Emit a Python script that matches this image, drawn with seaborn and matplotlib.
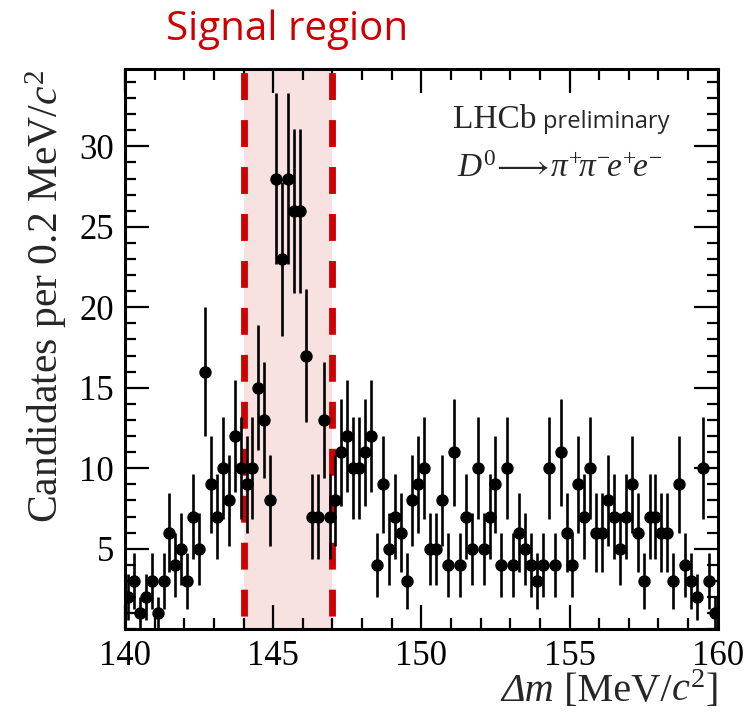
import numpy as np
import pandas as pd
import matplotlib
matplotlib.use("Agg")
import matplotlib.pyplot as plt
import seaborn as sns
from matplotlib.ticker import MultipleLocator
from matplotlib.offsetbox import TextArea, HPacker, AnchoredOffsetbox

# ---- data ----
bin_centers = [round(140.1 + 0.2 * i, 1) for i in range(100)]
counts = [2, 3, 1, 2, 3, 1, 3, 6, 4, 5,
          3, 7, 5, 16, 9, 7, 10, 8, 12, 10,
          9, 10, 15, 13, 8, 28, 23, 28, 26, 26,
          17, 7, 7, 13, 7, 8, 11, 12, 10, 10,
          11, 12, 4, 9, 5, 7, 6, 3, 8, 9,
          10, 5, 5, 8, 4, 11, 4, 7, 5, 10,
          5, 7, 9, 4, 10, 4, 6, 5, 4, 3,
          4, 10, 4, 11, 6, 4, 9, 7, 10, 6,
          6, 8, 7, 5, 7, 9, 6, 3, 7, 7,
          6, 6, 3, 9, 4, 3, 2, 10, 3, 1]
signal_lo, signal_hi = 144.0, 147.0
x_ticks = [140, 145, 150, 155, 160]
y_ticks = [5, 10, 15, 20, 25, 30]

df = pd.DataFrame({"dm": bin_centers, "n": counts})
df["err"] = np.sqrt(df["n"])

sns.set_theme(style="ticks")
serif = ["Liberation Serif", "DejaVu Serif"]
plt.rcParams["font.family"] = serif
plt.rcParams["mathtext.fontset"] = "custom"
plt.rcParams["mathtext.rm"] = "Liberation Serif"
plt.rcParams["mathtext.it"] = "Liberation Serif:italic"
plt.rcParams["mathtext.bf"] = "Liberation Serif:bold"
plt.rcParams["mathtext.fallback"] = "stix"

fig = plt.figure(figsize=(7.55, 7.16), dpi=100)
ax = fig.add_axes([0.1656, 0.1211, 0.785, 0.7825])

red = "#cc0000"
ax.axvspan(signal_lo, signal_hi, color="#f7e1e1", zorder=0, lw=0)
for xv in (signal_lo, signal_hi):
    ax.axvline(xv, color=red, lw=4.9, linestyle=(5.0, (3.95, 2.95)),
               zorder=1)

ax.errorbar(df["dm"], df["n"], yerr=df["err"], fmt="none", ecolor="black",
            elinewidth=1.9, capsize=0, zorder=2)
sns.scatterplot(data=df, x="dm", y="n", ax=ax, color="black", s=80,
                edgecolor="black", linewidth=0, zorder=3, legend=False)

ax.set_xlim(140, 160)
ax.set_ylim(0, 34.8)
ax.set_xticks(x_ticks)
ax.set_yticks(y_ticks)
ax.xaxis.set_minor_locator(MultipleLocator(1))
ax.yaxis.set_minor_locator(MultipleLocator(1))
ax.tick_params(which="both", direction="in", top=True, right=True,
               width=1.6, labelsize=25, colors="black")
ax.tick_params(which="major", length=17, pad=8)
ax.tick_params(which="minor", length=8)
for sp in ax.spines.values():
    sp.set_linewidth(2.2)
    sp.set_color("black")

ax.set_xlabel("")
ax.set_ylabel(r"Candidates per 0.2 MeV/$c^2$", fontsize=30, loc="top",
              labelpad=7)

# x-axis title with italic Delta m and italic c
fs = 29
parts = [
    TextArea("Δm", textprops=dict(fontsize=fs, style="italic", family=serif)),
    TextArea(" [MeV/", textprops=dict(fontsize=fs, family=serif)),
    TextArea(r"$c^2$", textprops=dict(fontsize=fs, family=serif)),
    TextArea("]", textprops=dict(fontsize=fs, family=serif)),
]
xl = HPacker(children=parts, align="baseline", pad=0, sep=0)
fig.add_artist(AnchoredOffsetbox(loc="lower right", child=xl, pad=0,
                                 borderpad=0, frameon=False,
                                 bbox_to_anchor=(719 / 755, 1 - 710 / 716),
                                 bbox_transform=fig.transFigure))

ax.text(0.553, 0.895, "LHCb", transform=ax.transAxes, fontsize=24,
        ha="left", va="baseline")
ax.text(0.705, 0.895, "preliminary", transform=ax.transAxes, fontsize=17,
        ha="left", va="baseline", family=["Open Sans", "DejaVu Sans"])
ax.text(0.56, 0.808,
        r"$D^{0}\!\longrightarrow\!\pi^{+}\!\pi^{-}\!e^{+}\!e^{-}$",
        transform=ax.transAxes, fontsize=24, ha="left", va="baseline")

fig.text(0.38, 1 - 40 / 716, "Signal region", color=red, fontsize=29,
         ha="center", va="baseline", family=["Open Sans", "DejaVu Sans"])

fig.savefig("out.png", dpi=100)
